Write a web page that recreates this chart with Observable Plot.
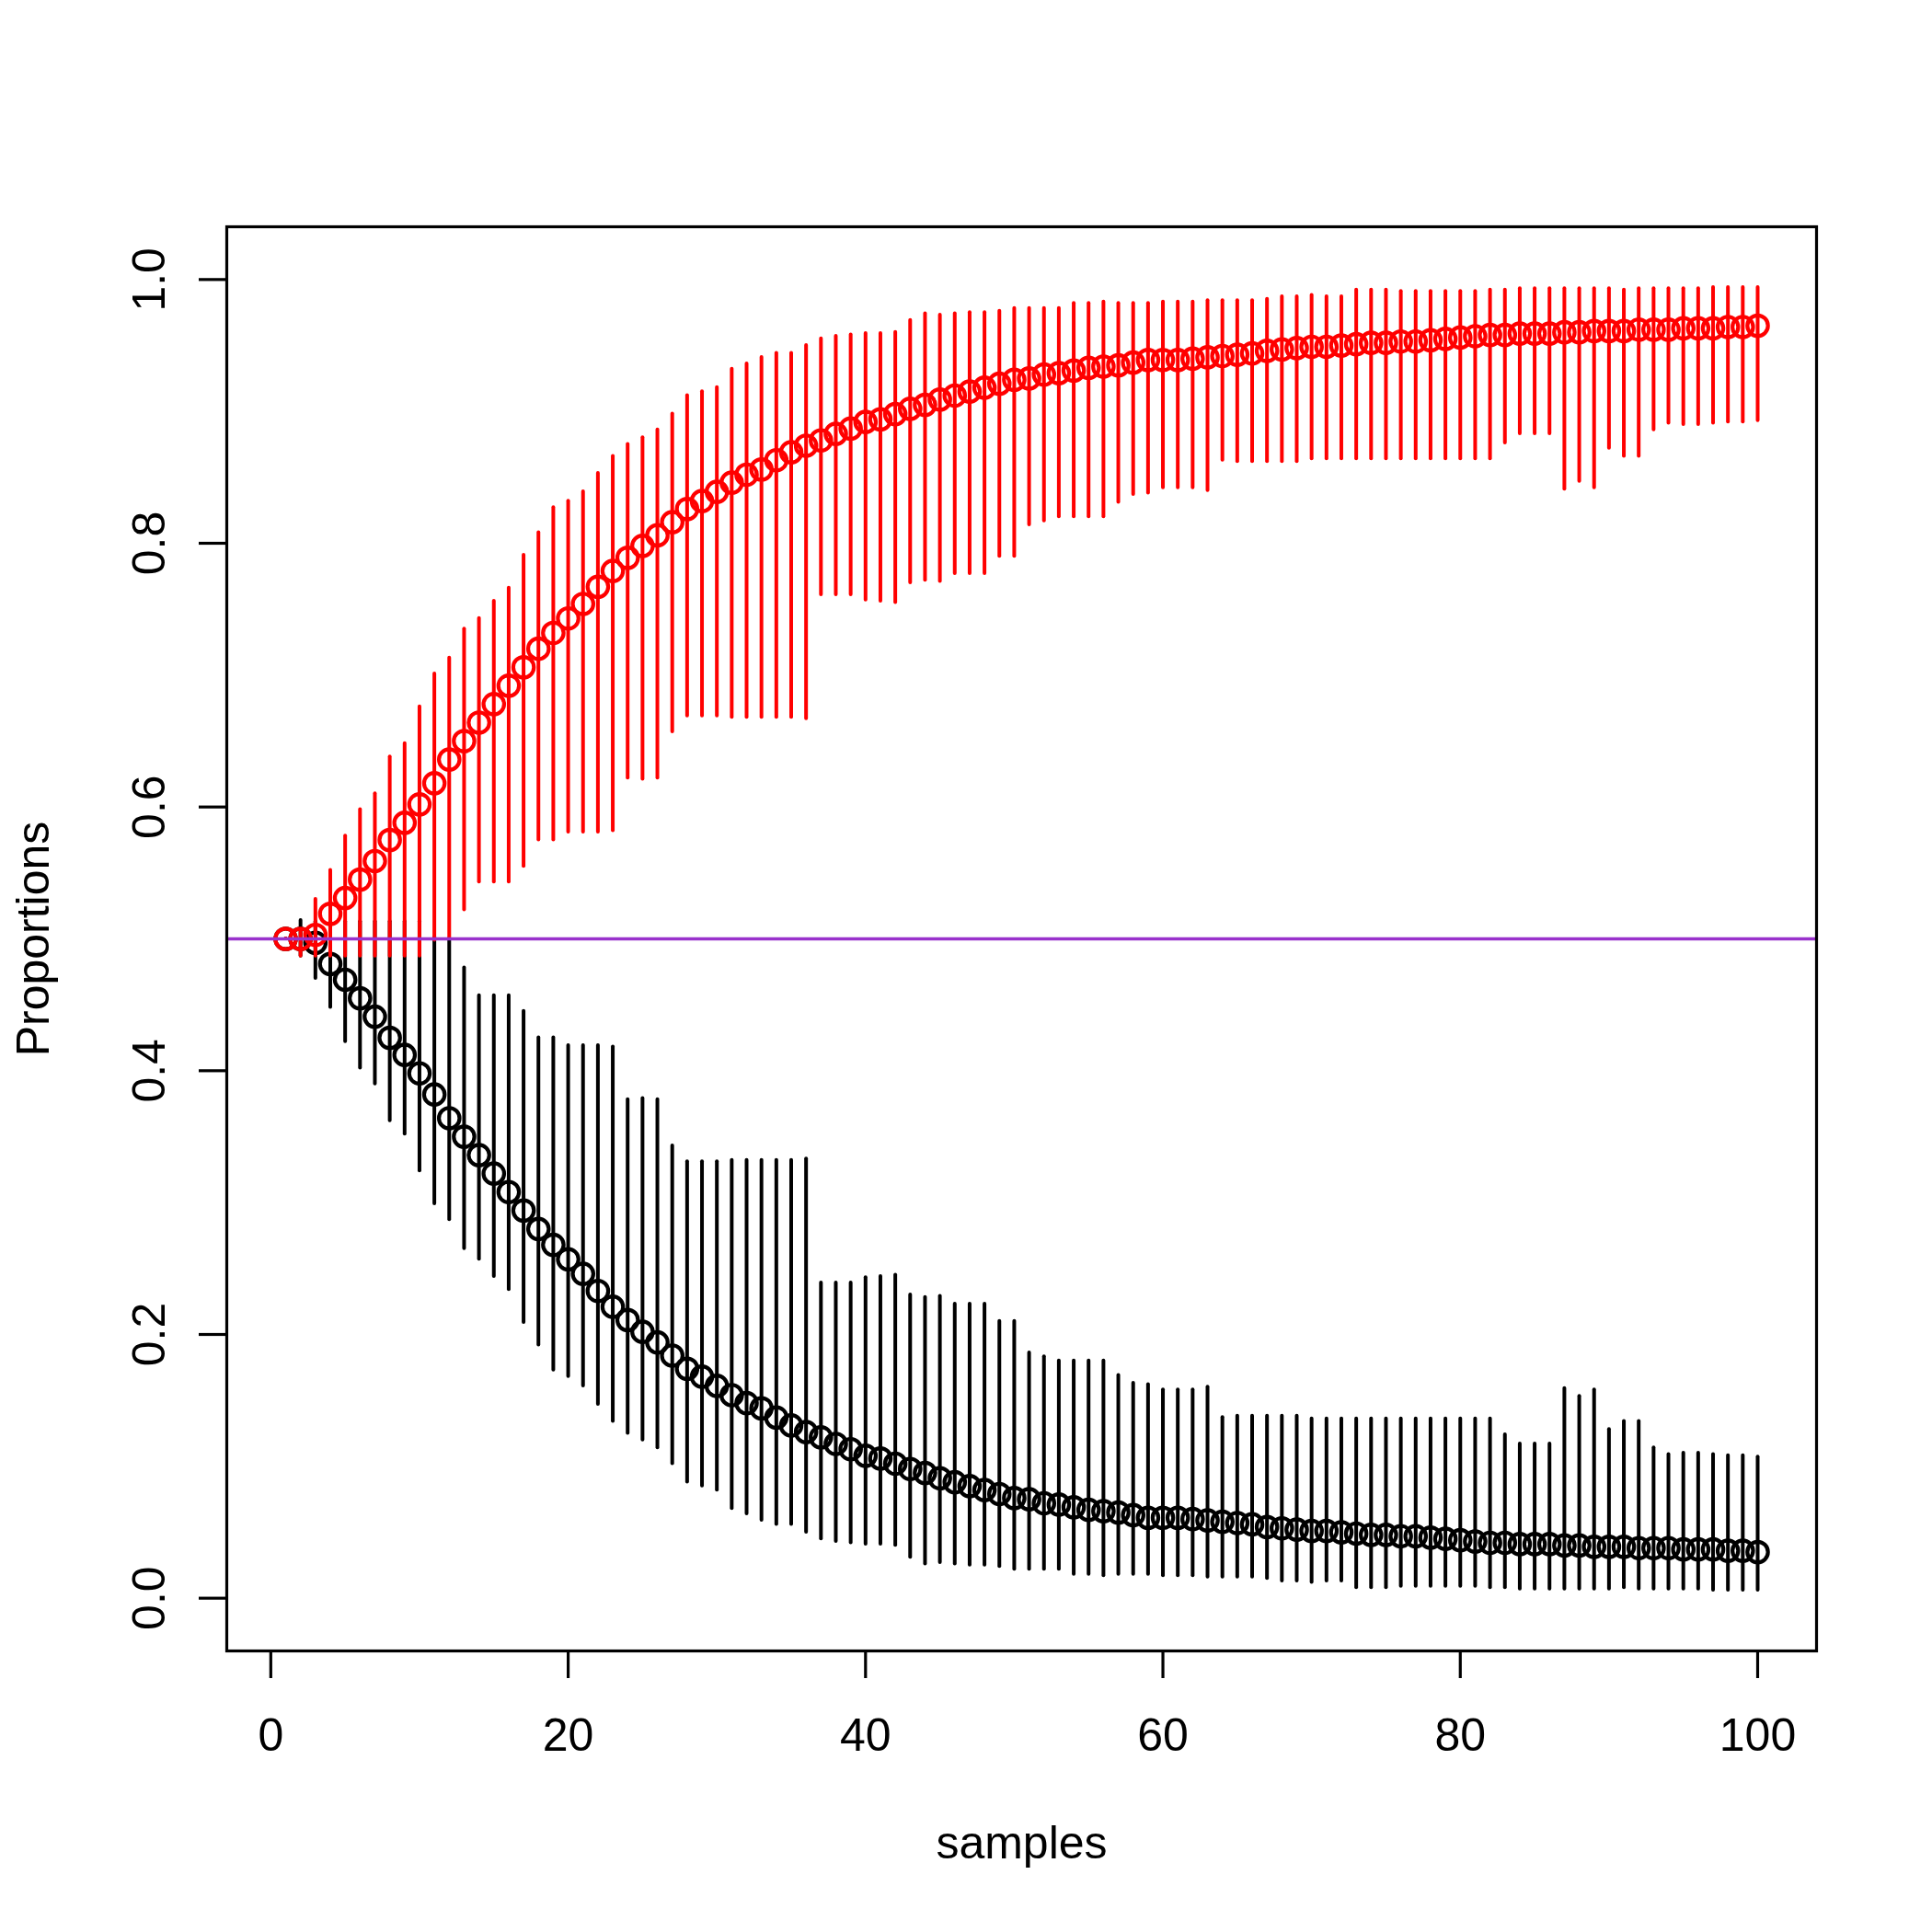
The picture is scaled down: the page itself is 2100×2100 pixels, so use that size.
<!DOCTYPE html>
<html>
<head>
<meta charset="utf-8">
<script src="https://cdn.jsdelivr.net/npm/d3@7"></script>
<script src="https://cdn.jsdelivr.net/npm/@observablehq/plot@0.6"></script>
<style>
  html, body { margin: 0; padding: 0; background: white; }
  #chart svg { display: block; }
</style>
</head>
<body>
<div id="chart"></div>
<script>
const samples = [1,2,3,4,5,6,7,8,9,10,11,12,13,14,15,16,17,18,19,20,21,22,23,24,25,26,27,28,29,30,31,32,33,34,35,36,37,38,39,40,41,42,43,44,45,46,47,48,49,50,51,52,53,54,55,56,57,58,59,60,61,62,63,64,65,66,67,68,69,70,71,72,73,74,75,76,77,78,79,80,81,82,83,84,85,86,87,88,89,90,91,92,93,94,95,96,97,98,99,100];

const redMean = [0.500,0.500,0.503,0.519,0.531,0.545,0.559,0.575,0.588,0.602,0.618,0.636,0.650,0.664,0.678,0.692,0.706,0.720,0.732,0.743,0.754,0.767,0.779,0.789,0.798,0.806,0.816,0.826,0.832,0.839,0.846,0.852,0.856,0.863,0.869,0.874,0.878,0.883,0.887,0.892,0.894,0.898,0.902,0.905,0.909,0.912,0.915,0.918,0.921,0.924,0.925,0.928,0.929,0.931,0.933,0.934,0.935,0.937,0.939,0.939,0.939,0.940,0.941,0.942,0.943,0.944,0.946,0.947,0.948,0.949,0.949,0.950,0.951,0.952,0.952,0.953,0.953,0.954,0.955,0.956,0.957,0.958,0.958,0.959,0.959,0.959,0.960,0.960,0.961,0.961,0.961,0.962,0.962,0.962,0.963,0.963,0.963,0.964,0.964,0.965];

const redLow = [0.500,0.487,0.487,0.487,0.487,0.487,0.487,0.487,0.487,0.487,0.499,0.500,0.522,0.543,0.543,0.543,0.555,0.575,0.575,0.581,0.581,0.581,0.582,0.622,0.621,0.622,0.657,0.669,0.669,0.669,0.668,0.668,0.668,0.668,0.668,0.667,0.761,0.761,0.761,0.757,0.756,0.755,0.770,0.772,0.771,0.777,0.777,0.777,0.790,0.790,0.814,0.817,0.820,0.820,0.820,0.820,0.831,0.837,0.838,0.842,0.842,0.842,0.840,0.863,0.862,0.862,0.862,0.862,0.862,0.864,0.864,0.864,0.864,0.864,0.864,0.864,0.864,0.864,0.864,0.864,0.864,0.864,0.876,0.883,0.883,0.883,0.841,0.847,0.842,0.872,0.866,0.866,0.886,0.891,0.890,0.890,0.891,0.892,0.892,0.893];

const redHigh = [0.500,0.507,0.530,0.552,0.578,0.598,0.610,0.638,0.648,0.676,0.701,0.713,0.735,0.743,0.756,0.766,0.791,0.808,0.827,0.832,0.839,0.853,0.866,0.875,0.880,0.886,0.898,0.912,0.915,0.918,0.932,0.936,0.941,0.944,0.944,0.950,0.955,0.957,0.958,0.959,0.959,0.960,0.969,0.974,0.973,0.974,0.975,0.975,0.976,0.978,0.978,0.978,0.978,0.982,0.982,0.983,0.982,0.982,0.982,0.983,0.983,0.983,0.984,0.984,0.984,0.984,0.985,0.987,0.987,0.988,0.987,0.987,0.992,0.992,0.992,0.991,0.991,0.991,0.991,0.991,0.991,0.992,0.992,0.993,0.993,0.993,0.993,0.993,0.993,0.993,0.992,0.993,0.993,0.993,0.993,0.993,0.994,0.994,0.994,0.994];

const blackMean = [0.500,0.500,0.497,0.481,0.469,0.455,0.441,0.425,0.412,0.398,0.382,0.364,0.350,0.336,0.322,0.308,0.294,0.280,0.268,0.257,0.246,0.233,0.221,0.211,0.202,0.194,0.184,0.174,0.168,0.161,0.154,0.148,0.144,0.137,0.131,0.126,0.122,0.117,0.113,0.108,0.106,0.102,0.098,0.095,0.091,0.088,0.085,0.082,0.079,0.076,0.075,0.072,0.071,0.069,0.067,0.066,0.065,0.063,0.061,0.061,0.061,0.060,0.059,0.058,0.057,0.056,0.054,0.053,0.052,0.051,0.051,0.050,0.049,0.048,0.048,0.047,0.047,0.046,0.045,0.044,0.043,0.042,0.042,0.041,0.041,0.041,0.040,0.040,0.039,0.039,0.039,0.038,0.038,0.038,0.037,0.037,0.037,0.036,0.036,0.035];

const blackLow = [0.500,0.487,0.470,0.448,0.422,0.402,0.390,0.362,0.352,0.324,0.299,0.287,0.265,0.257,0.244,0.234,0.209,0.192,0.173,0.168,0.161,0.147,0.134,0.125,0.120,0.114,0.102,0.088,0.085,0.082,0.068,0.064,0.059,0.056,0.056,0.050,0.045,0.043,0.042,0.041,0.041,0.040,0.031,0.026,0.027,0.026,0.025,0.025,0.024,0.022,0.022,0.022,0.022,0.018,0.018,0.017,0.018,0.018,0.018,0.017,0.017,0.017,0.016,0.016,0.016,0.016,0.015,0.013,0.013,0.012,0.013,0.013,0.008,0.008,0.008,0.009,0.009,0.009,0.009,0.009,0.009,0.008,0.008,0.007,0.007,0.007,0.007,0.007,0.007,0.007,0.008,0.007,0.007,0.007,0.007,0.007,0.006,0.006,0.006,0.006];

const blackHigh = [0.500,0.514,0.513,0.513,0.513,0.513,0.513,0.513,0.513,0.513,0.501,0.500,0.478,0.457,0.457,0.457,0.445,0.425,0.425,0.419,0.419,0.419,0.418,0.378,0.379,0.378,0.343,0.331,0.331,0.331,0.332,0.332,0.332,0.332,0.332,0.333,0.239,0.239,0.239,0.243,0.244,0.245,0.230,0.228,0.229,0.223,0.223,0.223,0.210,0.210,0.186,0.183,0.180,0.180,0.180,0.180,0.169,0.163,0.162,0.158,0.158,0.158,0.160,0.137,0.138,0.138,0.138,0.138,0.138,0.136,0.136,0.136,0.136,0.136,0.136,0.136,0.136,0.136,0.136,0.136,0.136,0.136,0.124,0.117,0.117,0.117,0.159,0.153,0.158,0.128,0.134,0.134,0.114,0.109,0.110,0.110,0.109,0.108,0.108,0.107];

const xTicks = [0, 20, 40, 60, 80, 100];
const yTicks = [0, 0.2, 0.4, 0.6, 0.8, 1.0];
const yTickLabels = ["0.0", "0.2", "0.4", "0.6", "0.8", "1.0"];
const referenceLine = [0.5];
const xTitle = "samples";
const yTitle = "Proportions";

const rows = samples.map((s, i) => ({
  s,
  rm: redMean[i], rl: redLow[i], rh: redHigh[i],
  bm: blackMean[i], bl: blackLow[i], bh: blackHigh[i]
}));
const yLabelRows = yTicks.map((v, i) => ({v, t: yTickLabels[i]}));

const FONT = "Liberation Sans, Arial, Helvetica, sans-serif";

const chart = Plot.plot({
  width: 2100,
  height: 2100,
  marginLeft: 246,
  marginRight: 126,
  marginTop: 246,
  marginBottom: 306,
  style: {fontFamily: FONT, background: "white", color: "black"},
  x: {domain: [-2.96, 103.96]},
  y: {domain: [-0.04, 1.04]},
  marks: [
    Plot.ruleX(rows, {x: "s", y1: "bl", y2: "bh", stroke: "black", strokeWidth: 4, strokeLinecap: "round"}),
    Plot.dot(rows, {x: "s", y: "bm", r: 11.2, stroke: "black", strokeWidth: 4.2, fill: "none"}),
    Plot.ruleX(rows, {x: "s", y1: "rl", y2: "rh", stroke: "red", strokeWidth: 4, strokeLinecap: "round"}),
    Plot.dot(rows, {x: "s", y: "rm", r: 11.2, stroke: "red", strokeWidth: 4.2, fill: "none"}),
    Plot.ruleY(referenceLine, {stroke: "darkorchid", strokeWidth: 3.5}),
    Plot.frame({stroke: "black", strokeWidth: 3.2}),
    Plot.axisX(xTicks, {tickSize: 30, tickPadding: 43, fontSize: 50, strokeWidth: 3.2, tickFormat: d => String(d), label: null}),
    Plot.axisY(yTicks, {tickSize: 30, strokeWidth: 3.2, tickFormat: () => "", label: null}),
    Plot.text(yLabelRows, {y: "v", text: "t", frameAnchor: "left", dx: -84, rotate: -90, fontSize: 50, textAnchor: "middle", lineAnchor: "middle"}),
    Plot.text([xTitle], {text: d => d, frameAnchor: "bottom", dy: 209, fontSize: 50, lineAnchor: "middle"}),
    Plot.text([yTitle], {text: d => d, frameAnchor: "left", dx: -210, rotate: -90, fontSize: 50, lineAnchor: "middle", textAnchor: "middle"})
  ]
});
document.getElementById("chart").appendChild(chart);
</script>
</body>
</html>
